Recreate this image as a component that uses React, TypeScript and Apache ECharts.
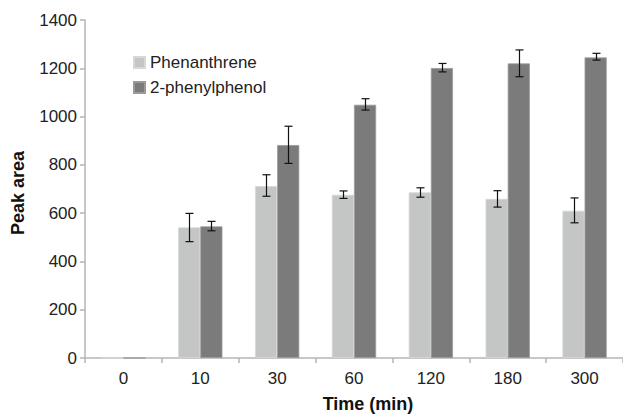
import React, { useEffect, useRef } from "react";
import * as echarts from "echarts";

const categories = ["0", "10", "30", "60", "120", "180", "300"];
const phenanthrene = [0, 541, 712, 676, 686, 659, 610];
const phenanthreneLow = [0, 482, 670, 661, 666, 625, 560];
const phenanthreneHigh = [0, 599, 759, 692, 705, 693, 663];
const phenylphenol = [0, 545, 882, 1049, 1201, 1220, 1245];
const phenylphenolLow = [0, 527, 806, 1027, 1185, 1165, 1234];
const phenylphenolHigh = [0, 566, 960, 1074, 1220, 1276, 1262];
const yTicks = [0, 200, 400, 600, 800, 1000, 1200, 1400];

const BAR_FRAC = 0.288;

function errorSeries(low: number[], high: number[], side: number) {
  const data = categories
    .map((_, i) => [i, low[i], high[i]])
    .filter((d) => d[2] > 0);
  return {
    type: "custom",
    silent: true,
    z: 10,
    renderItem: (params: any, api: any) => {
      const i = api.value(0);
      const lo = api.coord([i, api.value(1)]);
      const hi = api.coord([i, api.value(2)]);
      const bw = api.size([1, 0])[0] * BAR_FRAC;
      const x = Math.round(lo[0] + side * bw / 2) + 0.5;
      const cap = 4;
      const style = { stroke: "#111", lineWidth: 1.2 };
      return {
        type: "group",
        children: [
          { type: "line", shape: { x1: x, y1: hi[1], x2: x, y2: lo[1] }, style },
          { type: "line", shape: { x1: x - cap, y1: hi[1], x2: x + cap, y2: hi[1] }, style },
          { type: "line", shape: { x1: x - cap, y1: lo[1], x2: x + cap, y2: lo[1] }, style },
        ],
      };
    },
    data,
  };
}

export default function App() {
  const ref = useRef<HTMLDivElement>(null);
  useEffect(() => {
    const chart = echarts.init(ref.current!, null, { renderer: "svg" });
    const font = "Liberation Sans, Arial, Helvetica, sans-serif";
    chart.setOption({
      animation: false,
      textStyle: { fontFamily: font },
      grid: { left: 85, right: -10, top: 20, bottom: 57, containLabel: false },
      legend: {
        show: true,
        left: 133,
        top: 54,
        padding: 0,
        orient: "vertical",
        itemWidth: 11,
        itemHeight: 11,
        itemGap: 8,
        icon: "rect",
        textStyle: { fontSize: 17, color: "#222", fontFamily: font, padding: [0, 0, 0, 0] },
        data: ["Phenanthrene", "2-phenylphenol"],
      },
      xAxis: {
        type: "category",
        data: categories,
        axisLine: { lineStyle: { color: "#b5b5b5", width: 1.5 } },
        axisTick: { show: true, length: 5, lineStyle: { color: "#b5b5b5", width: 1.5 } },
        axisLabel: { fontSize: 17, color: "#222", margin: 12, fontFamily: font },
      },
      yAxis: {
        type: "value",
        min: 0,
        max: 1400,
        interval: 200,
        splitLine: { show: false },
        axisLine: { show: true, lineStyle: { color: "#b5b5b5", width: 1.5 } },
        axisTick: { show: true, length: 5, lineStyle: { color: "#b5b5b5", width: 1.5 } },
        axisLabel: {
          fontSize: 17,
          color: "#222",
          margin: 8,
          fontFamily: font,
          formatter: (v: number) => (yTicks.includes(v) ? String(v) : ""),
        },
      },
      series: [
        {
          name: "Phenanthrene",
          type: "bar",
          data: phenanthrene,
          barWidth: BAR_FRAC * 100 + "%",
          barGap: "0%",
          itemStyle: { color: "#c4c6c5", borderColor: "#d6d8d7", borderWidth: 0.8 },
        },
        {
          name: "2-phenylphenol",
          type: "bar",
          data: phenylphenol,
          barWidth: BAR_FRAC * 100 + "%",
          barGap: "0%",
          itemStyle: { color: "#7b7b7b", borderColor: "#9a9a9a", borderWidth: 0.8 },
        },
        errorSeries(phenanthreneLow, phenanthreneHigh, -1),
        errorSeries(phenylphenolLow, phenylphenolHigh, 1),
      ],
      graphic: [
        {
          type: "text",
          x: 18,
          y: 193,
          rotation: Math.PI / 2,
          style: {
            text: "Peak area",
            font: "bold 18px " + font,
            fill: "#111",
            align: "center",
            verticalAlign: "middle",
          },
        },
        {
          type: "text",
          x: 368,
          y: 404,
          style: {
            text: "Time (min)",
            font: "bold 18px " + font,
            fill: "#111",
            align: "center",
            verticalAlign: "middle",
          },
        },
      ],
    });
    return () => chart.dispose();
  }, []);
  return <div ref={ref} style={{ width: 623, height: 415, position: "absolute", left: 0, top: 0 }} />;
}
